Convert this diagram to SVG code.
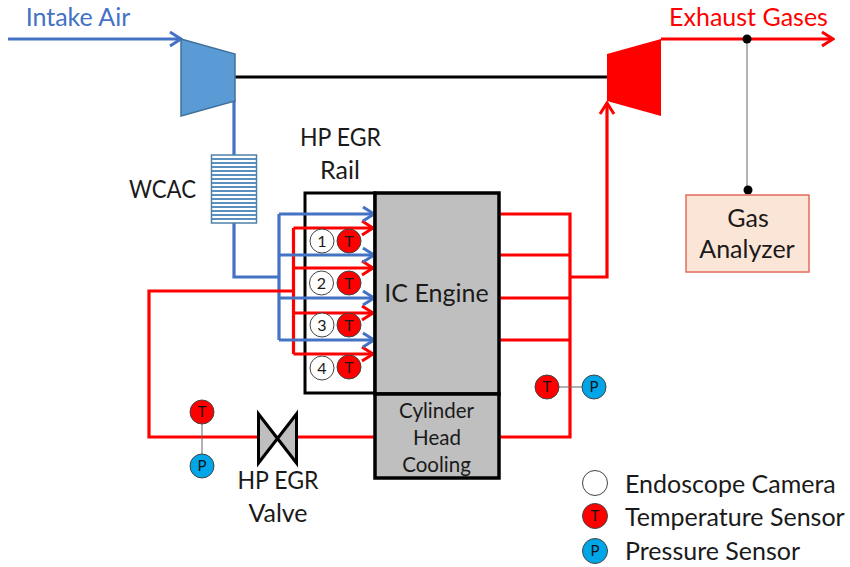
<svg xmlns="http://www.w3.org/2000/svg" width="850" height="567" viewBox="0 0 850 567">
<style>
text{font-family:"Lato","Open Sans","Liberation Sans",sans-serif;font-size:25px;fill:#1a1a1a;text-anchor:middle}
.s{font-size:15px;fill:#111}
.n{font-size:16px}
.c{font-size:20.500px}
.b{fill:none;stroke:#4472C4;stroke-width:3.2}
.r{fill:none;stroke:#FF0000;stroke-width:3.2}
.k{fill:none;stroke:#000;stroke-width:3.2}
.t{fill:#FF0000;stroke:#444;stroke-width:1}
.p{fill:#00A6E8;stroke:#444;stroke-width:1}
.e{fill:#fff;stroke:#444;stroke-width:1}
.g{fill:#BFBFBF;stroke:#000;stroke-width:3.5}
.l{stroke:#666;stroke-width:1;fill:none}
.w{stroke:#5B8FBF;stroke-width:2}
</style>
<defs>
<marker id="ab" markerUnits="userSpaceOnUse" markerWidth="16" markerHeight="18" refX="14" refY="9" orient="auto"><path d="M3 2L14 9L3 16" fill="none" stroke="#4472C4" stroke-width="3"/></marker>
<marker id="ar" markerUnits="userSpaceOnUse" markerWidth="16" markerHeight="18" refX="14" refY="9" orient="auto"><path d="M3 2L14 9L3 16" fill="none" stroke="#FF0000" stroke-width="3"/></marker>
</defs>
<g id="rail"><rect x="305" y="193" width="70" height="200" fill="#fff" stroke="#000" stroke-width="3"/></g>
<g id="connectors">
<path class="k" d="M235 77H607"/>
<path class="l" d="M747 39V190"/>
<path class="b" d="M8 39H181" marker-end="url(#ab)"/>
<path class="b" d="M234 100V155M234 223V277H279"/>
<path class="b" d="M279 214V340"/>
<path class="r" d="M293.500 228V354"/>
<path class="r" d="M294 291H149V437H258M297 437H375"/>
<path class="r" d="M293.500 228H373" marker-end="url(#ar)"/>
<path class="r" d="M293.500 268H373" marker-end="url(#ar)"/>
<path class="r" d="M293.500 313H373" marker-end="url(#ar)"/>
<path class="r" d="M293.500 354H373" marker-end="url(#ar)"/>
<path class="b" d="M279 214H374" marker-end="url(#ab)"/>
<path class="b" d="M279 255H374" marker-end="url(#ab)"/>
<path class="b" d="M279 298H374" marker-end="url(#ab)"/>
<path class="b" d="M279 340H374" marker-end="url(#ab)"/>
<path class="r" d="M499 214H570V437H499M499 255H570M499 298H570M499 340H570"/>
<path class="r" d="M570 277H607V103" marker-end="url(#ar)"/>
<path class="r" d="M661 39H833" marker-end="url(#ar)"/>
<path class="l" d="M202 412V466M547 387H594"/>
</g>
<g id="compressor"><polygon points="181,39 235,54 235,101 181,116" fill="#5B9BD5" stroke="#41719C" stroke-width="1.500"/></g>
<g id="turbine"><polygon points="607,54 661,39 661,116 607,101" fill="#FF0000"/></g>
<g id="wcac">
<rect x="211.500" y="155" width="45" height="68" fill="#fff" stroke="#4F81A8" stroke-width="1.500"/>
<path class="w" d="M212 159H256M212 163H256M212 167H256M212 171H256M212 175H256M212 179H256M212 183H256M212 187H256M212 191H256M212 195H256M212 199H256M212 203H256M212 207H256M212 211H256M212 215H256M212 219H256"/>
<text x="162.500" y="198" textLength="67" lengthAdjust="spacingAndGlyphs">WCAC</text>
</g>
<g id="rail-label"><text x="340.500" y="146" textLength="81" lengthAdjust="spacingAndGlyphs">HP EGR</text><text x="340" y="179">Rail</text></g>
<g id="engine"><rect class="g" x="375" y="193" width="124" height="201"/><text x="436.500" y="302">IC Engine</text></g>
<g id="cooling"><rect class="g" x="375" y="394" width="124" height="84"/><text class="c" x="436.500" y="418">Cylinder</text><text class="c" x="437" y="445">Head</text><text class="c" x="436.500" y="472">Cooling</text></g>
<g id="cam1"><circle class="e" cx="322" cy="241" r="12"/><text class="n" x="322" y="247">1</text></g>
<g id="t1"><circle class="t" cx="349" cy="241" r="12"/><text class="n" x="349" y="247">T</text></g>
<g id="cam2"><circle class="e" cx="321.500" cy="283" r="12"/><text class="n" x="321.500" y="289">2</text></g>
<g id="t2"><circle class="t" cx="349" cy="283" r="12"/><text class="n" x="349" y="289">T</text></g>
<g id="cam3"><circle class="e" cx="322" cy="325" r="12"/><text class="n" x="322" y="331">3</text></g>
<g id="t3"><circle class="t" cx="349" cy="325" r="12"/><text class="n" x="349" y="331">T</text></g>
<g id="cam4"><circle class="e" cx="322" cy="368" r="12"/><text class="n" x="322" y="374">4</text></g>
<g id="t4"><circle class="t" cx="349" cy="367" r="12"/><text class="n" x="349" y="373">T</text></g>
<g id="t5"><circle class="t" cx="202" cy="412" r="12"/><text class="s" x="202" y="417">T</text></g>
<g id="p5"><circle class="p" cx="202" cy="466" r="12"/><text class="s" x="202" y="471">P</text></g>
<g id="t6"><circle class="t" cx="547" cy="387" r="12"/><text class="s" x="547" y="392">T</text></g>
<g id="p6"><circle class="p" cx="594" cy="387" r="12"/><text class="s" x="594" y="392">P</text></g>
<g id="valve"><path d="M258.500 414V463L296.500 414V463Z" fill="#BFBFBF" stroke="#000" stroke-width="3"/></g>
<g id="valve-label"><text x="278" y="489" textLength="81" lengthAdjust="spacingAndGlyphs">HP EGR</text><text x="278" y="522">Valve</text></g>
<g id="gas"><circle cx="747" cy="39" r="4.500" fill="#000"/><circle cx="748" cy="190" r="4.500" fill="#000"/>
<rect x="686" y="195" width="123" height="77" fill="#FBE5D6" stroke="#E46C5A" stroke-width="1.500"/><text x="748" y="227">Gas</text><text x="747" y="258">Analyzer</text></g>
<g id="labels"><text x="78" y="26" style="fill:#4472C4">Intake Air</text><text x="748.500" y="26" style="fill:#FF0000">Exhaust Gases</text></g>
<g id="legend">
<circle class="e" cx="595" cy="483" r="12.500"/><text x="625" y="493" style="text-anchor:start">Endoscope Camera</text>
<circle class="t" cx="595" cy="516" r="12.500"/><text class="s" x="595" y="521">T</text><text x="625" y="526" style="text-anchor:start">Temperature Sensor</text>
<circle class="p" cx="595" cy="551" r="12.500"/><text class="s" x="595" y="556">P</text><text x="625" y="560" style="text-anchor:start">Pressure Sensor</text>
</g>
</svg>
